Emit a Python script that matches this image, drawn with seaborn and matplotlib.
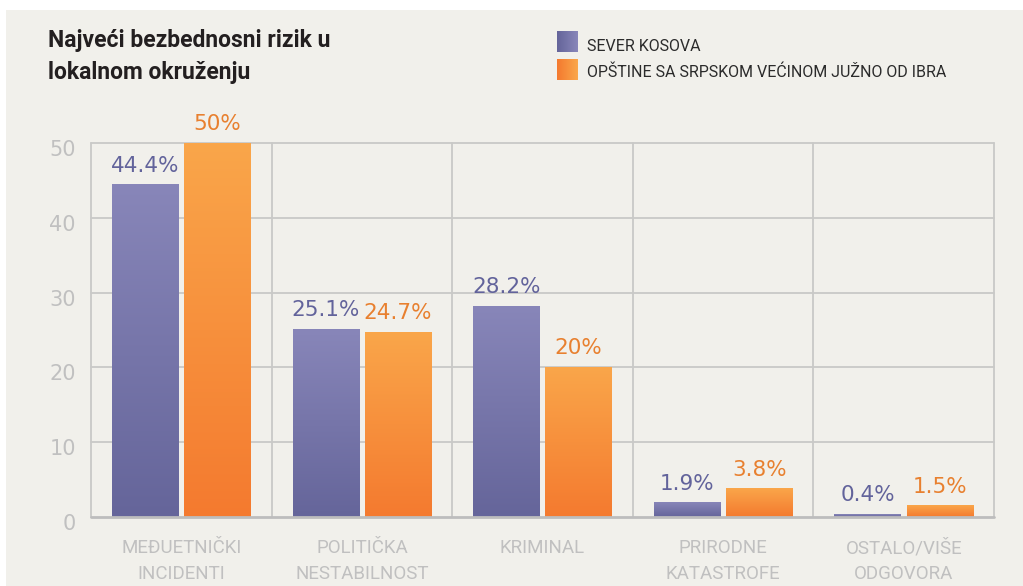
import numpy as np
import pandas as pd
import matplotlib
matplotlib.use("Agg")
import matplotlib.pyplot as plt
from matplotlib.patches import Rectangle
from matplotlib.transforms import ScaledTranslation
from matplotlib.colors import to_rgb
import seaborn as sns

# --- data -------------------------------------------------------------
categories = ["MEĐUETNIČKI\nINCIDENTI", "POLITIČKA\nNESTABILNOST", "KRIMINAL",
              "PRIRODNE\nKATASTROFE", "OSTALO/VIŠE\nODGOVORA"]
series_names = ["SEVER KOSOVA", "OPŠTINE SA SRPSKOM VEĆINOM JUŽNO OD IBRA"]
sever_kosova = [44.4, 25.1, 28.2, 1.9, 0.4]
juzno_od_ibra = [50, 24.7, 20, 3.8, 1.5]
value_labels_sever = ["44.4%", "25.1%", "28.2%", "1.9%", "0.4%"]
value_labels_juzno = ["50%", "24.7%", "20%", "3.8%", "1.5%"]
y_ticks = [0, 10, 20, 30, 40, 50]
title_lines = ["Najveći bezbednosni rizik u", "lokalnom okruženju"]

df = pd.DataFrame({
    "kategorija": categories * 2,
    "region": [series_names[0]] * 5 + [series_names[1]] * 5,
    "vrednost": sever_kosova + juzno_od_ibra,
})

# --- style ------------------------------------------------------------
BG = "#f1f0eb"
GRID = "#c9c9c7"
AXIS = "#bdbdbd"
TICK = "#c0c0c0"
PURPLE_TOP, PURPLE_BOT = "#8886b9", "#65659a"
ORANGE_TOP, ORANGE_BOT = "#faa64a", "#f47a2f"
PURPLE_TXT, ORANGE_TXT = "#62639b", "#e8802f"
COND = ["Roboto", "DejaVu Sans"]
VALF = ["DejaVu Sans"]

sns.set_theme(style="white")
plt.rcParams["font.family"] = ["DejaVu Sans"]

W, H = 1023, 586
fig = plt.figure(figsize=(W / 100, H / 100), dpi=100, facecolor="white")
fig.patches.append(Rectangle((6 / W, 0), 1, 1 - 10 / H, transform=fig.transFigure,
                             facecolor=BG, edgecolor="none", zorder=-10))

ax = fig.add_axes([91 / W, 69 / H, 903 / W, 374 / H])
ax.set_facecolor(BG)

sns.barplot(data=df, x="kategorija", y="vrednost", hue="region",
            order=categories, hue_order=series_names,
            palette=[PURPLE_BOT, ORANGE_BOT], width=0.8, gap=0.083,
            legend=False, ax=ax, zorder=3)


def gradient(top, bottom, n=256):
    t = np.linspace(0, 1, n)[:, None, None]
    a = np.array(to_rgb(top))[None, None, :]
    b = np.array(to_rgb(bottom))[None, None, :]
    return a * (1 - t) + b * t


# Vertical gradients on each bar, then the value labels above them
grads = {0: gradient(PURPLE_TOP, PURPLE_BOT), 1: gradient(ORANGE_TOP, ORANGE_BOT)}
for hi, container in enumerate(ax.containers):
    labels = value_labels_sever if hi == 0 else value_labels_juzno
    color = PURPLE_TXT if hi == 0 else ORANGE_TXT
    for bar, lab in zip(container, labels):
        x0, y0, w, h = bar.get_x(), bar.get_y(), bar.get_width(), bar.get_height()
        ax.imshow(grads[hi], extent=(x0, x0 + w, y0, y0 + h), aspect="auto",
                  origin="upper", zorder=3, interpolation="bilinear")
        bar.set_visible(False)
        ax.annotate(lab, (x0 + w / 2, y0 + h), xytext=(0, 6.5), textcoords="offset points",
                    ha="center", va="bottom", fontsize=15.5, color=color, family=VALF,
                    zorder=4)

ax.set_xlim(-0.5, 4.5)
ax.set_ylim(0, 50)

# Grid lines
for yv in y_ticks[1:]:
    ax.axhline(yv, color=GRID, lw=1.3, zorder=1, clip_on=False)
for xv in np.arange(-0.5, 5.0, 1.0):
    ax.axvline(xv, color=GRID, lw=1.3, zorder=1, clip_on=False)
ax.axhline(0, color=AXIS, lw=2.0, zorder=5, clip_on=False)
for s in ax.spines.values():
    s.set_visible(False)

ax.set_yticks(y_ticks)
ax.set_yticklabels([str(v) for v in y_ticks])
ax.tick_params(axis="y", length=0, pad=11, labelsize=15, labelcolor=TICK)
for lab in ax.get_yticklabels():
    lab.set_transform(lab.get_transform() + ScaledTranslation(0, -5 / 100, fig.dpi_scale_trans))
    lab.set_family(VALF)

ax.tick_params(axis="x", length=0, pad=16, labelsize=13.5, labelcolor=TICK)
for lab in ax.get_xticklabels():
    lab.set_family(COND)
    lab.set_linespacing(1.55)
    lab.set_verticalalignment("top")
ax.set_xlabel("")
ax.set_ylabel("")

# Title
fig.text(48 / W, 1 - 47 / H, title_lines[0], fontsize=16.5, fontweight="bold",
         color="#231f20", family=COND, va="baseline")
fig.text(48 / W, 1 - 79 / H, title_lines[1], fontsize=16.5, fontweight="bold",
         color="#231f20", family=COND, va="baseline")

# Legend with gradient swatches
def swatch(left_c, right_c, size=21):
    t = np.linspace(0, 1, size)[None, :, None]
    a = np.array(to_rgb(left_c))[None, None, :]
    b = np.array(to_rgb(right_c))[None, None, :]
    return np.repeat(a * (1 - t) + b * t, size, axis=0)

fig.figimage(swatch(PURPLE_BOT, PURPLE_TOP), xo=557, yo=H - 52, zorder=5)
fig.figimage(swatch(ORANGE_BOT, ORANGE_TOP), xo=557, yo=H - 80, zorder=5)
fig.text(587 / W, 1 - 51 / H, series_names[0], fontsize=11.5, color="#2b2b2b",
         family=["Roboto", "DejaVu Sans"], va="baseline")
fig.text(587 / W, 1 - 77 / H, series_names[1], fontsize=11.5, color="#2b2b2b",
         family=["Roboto", "DejaVu Sans"], va="baseline")

fig.savefig("out.png", dpi=100, facecolor="white")
